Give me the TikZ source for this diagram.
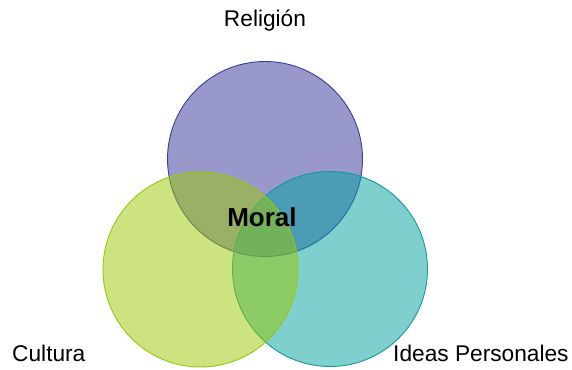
\documentclass[tikz,border=0pt]{standalone}
\usepackage{fontspec}
\setmainfont{Liberation Sans}
\definecolor{cpurple}{RGB}{51,51,153}
\definecolor{cpurpleb}{RGB}{60,60,160}
\definecolor{cteal}{RGB}{0,160,160}
\definecolor{ctealb}{RGB}{20,155,155}
\definecolor{cgreen}{RGB}{155,200,0}
\definecolor{cgreenb}{RGB}{150,200,20}
\begin{document}
\begin{tikzpicture}[x=1pt,y=-1pt,
  venn/.style={circle,minimum size=195pt,inner sep=0pt,line width=0.9pt,fill opacity=0.5,draw opacity=1},
  lbl/.style={font=\fontsize{22.7}{26}\selectfont,inner sep=0pt,anchor=base}]
\useasboundingbox (0,0) rectangle (572,369);
\fill[white] (0,0) rectangle (572,369);
\node[venn,fill=cpurple,draw=cpurpleb] (rel) at (265,159) {};
\node[venn,fill=cteal,draw=ctealb] (ide) at (330,269) {};
\node[venn,fill=cgreen,draw=cgreenb] (cul) at (200.5,269.5) {};
\node[lbl] (trel) at (265,27) {Religión};
\node[lbl,anchor=base west] (tcul) at (12,361) {Cultura};
\node[lbl,anchor=base west] (tide) at (393,361) {Ideas Personales};
\node[inner sep=0pt,anchor=base,font=\fontsize{26}{30}\selectfont\bfseries] (moral) at (262,226) {Moral};
\end{tikzpicture}
\end{document}
